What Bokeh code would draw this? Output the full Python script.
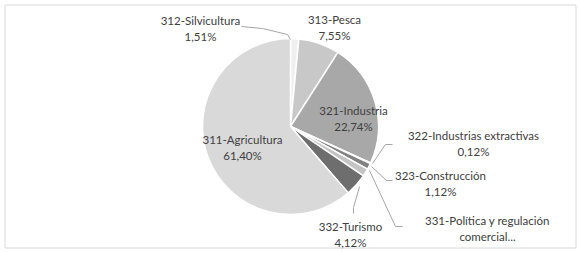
import math
from bokeh.plotting import figure
from bokeh.models import Range1d, ColumnDataSource
from bokeh.core.properties import value
from bokeh.embed import file_html
from bokeh.resources import INLINE

# ---- data (clockwise from 12 o'clock) ----
categories = ["312-Silvicultura", "313-Pesca", "321-Industria", "322-Industrias extractivas",
              "323-Construcción", "331-Política y regulación", "332-Turismo", "311-Agricultura"]
percent = [1.51, 7.55, 22.74, 0.12, 1.12, 1.44, 4.12, 61.40]
pct_labels = ["1,51%", "7,55%", "22,74%", "0,12%", "1,12%", "comercial...", "4,12%", "61,40%"]
colors = ["#efefef", "#c8c8c8", "#a8a8a8", "#9a9a9a", "#828282", "#c4c4c4", "#6e6e6e", "#d9d9d9"]

# ---- layout (page pixel coordinates, y downward) ----
W, H = 580, 253
cx, cy, R = 290, 126, 88
label_pos = [(200, 20), (334, 19), (353, 110), (473, 135), (440, 175), (487, 220), (350, 226), (242, 139)]
line_gap = 16
leaders = [
    [(241, 26), (262, 28), (287, 34), (290, 39)],
    None,
    None,
    [(392, 144), (385, 144), (372, 163)],
    [(392, 180), (386, 180), (371, 166)],
    [(402, 226), (395, 226), (369, 170)],
    [(359, 186), (353, 207), (353, 213)],
    None,
]


def fy(y):
    return H - y


p = figure(width=W, height=H, output_backend="svg", toolbar_location=None,
           x_range=Range1d(0, W), y_range=Range1d(0, H),
           min_border=0, background_fill_color="white", border_fill_color="white")
p.axis.visible = False
p.grid.visible = False
p.outline_line_color = None

# chart area border
p.quad(left=4.5, right=575.5, bottom=fy(247.5), top=fy(4.5), fill_color=None,
       line_color="#d9d9d9", line_width=1)

total = sum(percent)
starts, ends = [], []
cum = 0.0
for v in percent:
    a0 = math.pi / 2 - 2 * math.pi * cum / total
    cum += v
    a1 = math.pi / 2 - 2 * math.pi * cum / total
    starts.append(a0)
    ends.append(a1)

src = ColumnDataSource(dict(start=starts, end=ends, color=colors))
p.wedge(x=cx, y=fy(cy), radius=R, start_angle="start", end_angle="end", direction="clock",
        fill_color="color", line_color="white", line_width=1.5, source=src)

for pts in leaders:
    if pts:
        p.line([q[0] for q in pts], [fy(q[1]) for q in pts], line_color="#a6a6a6", line_width=1)

tx, ty, tt = [], [], []
for name, pl, (x, y) in zip(categories, pct_labels, label_pos):
    tx += [x, x]
    ty += [fy(y), fy(y + line_gap)]
    tt += [name, pl]

p.text(x=tx, y=ty, text=tt, text_align="center", text_baseline="middle",
       text_font=value("Lato"), text_font_size="11.5px", text_color="#404040")

open("out.html", "w").write(file_html(p, INLINE))
